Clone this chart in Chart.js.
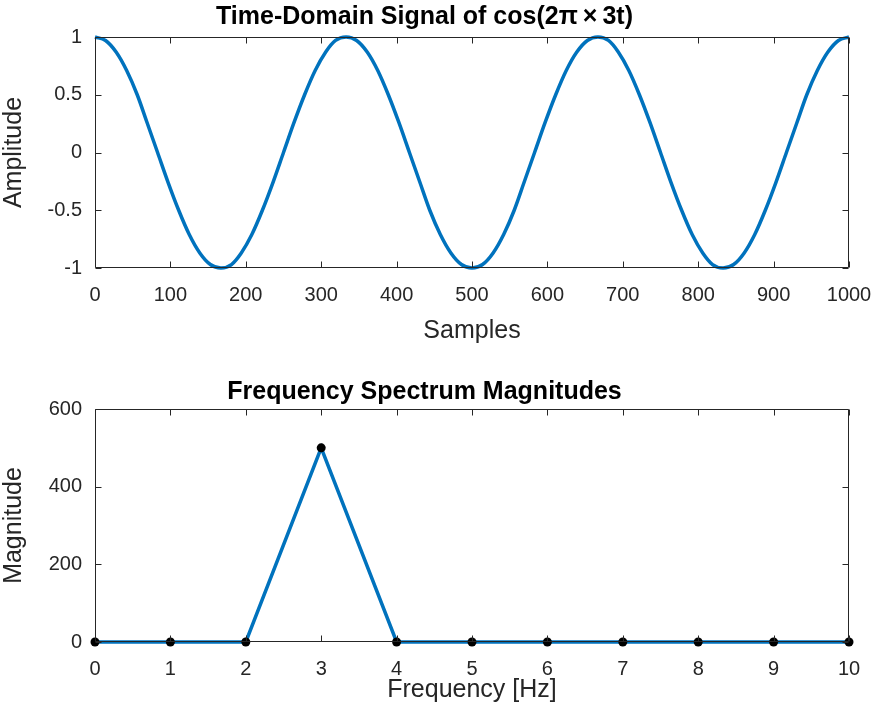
<!DOCTYPE html>
<html>
<head>
<meta charset="utf-8">
<script src="https://cdn.jsdelivr.net/npm/chart.js@4.4.0/dist/chart.umd.min.js"></script>
<style>
  body { margin: 0; background: #fff; }
  #wrap { position: relative; width: 876px; height: 717px; }
  canvas { position: absolute; left: 0; }
</style>
</head>
<body>
<div id="wrap">
  <canvas id="timeChart" width="876" height="358" style="top:0"></canvas>
  <canvas id="freqChart" width="876" height="359" style="top:358px"></canvas>
</div>
<script>
// Top plot: samples and amplitude
const sampleIdx = [
  0, 14, 28, 42, 56, 69, 83, 97, 111, 125, 139, 153,
  167, 181, 194, 208, 222, 236, 250, 264, 278, 292, 306, 319,
  333, 347, 361, 375, 389, 403, 417, 431, 444, 458, 472, 486,
  500, 514, 528, 542, 556, 569, 583, 597, 611, 625, 639, 653,
  667, 681, 694, 708, 722, 736, 750, 764, 778, 792, 806, 819,
  833, 847, 861, 875, 889, 903, 917, 931, 944, 958, 972, 986,
  1000
];
const amplitude = [
  1, 0.97, 0.87, 0.71, 0.5, 0.26, 0, -0.26, -0.5, -0.71, -0.87, -0.97,
  -1, -0.97, -0.87, -0.71, -0.5, -0.26, 0, 0.26, 0.5, 0.71, 0.87, 0.97,
  1, 0.97, 0.87, 0.71, 0.5, 0.26, 0, -0.26, -0.5, -0.71, -0.87, -0.97,
  -1, -0.97, -0.87, -0.71, -0.5, -0.26, 0, 0.26, 0.5, 0.71, 0.87, 0.97,
  1, 0.97, 0.87, 0.71, 0.5, 0.26, 0, -0.26, -0.5, -0.71, -0.87, -0.97,
  -1, -0.97, -0.87, -0.71, -0.5, -0.26, 0, 0.26, 0.5, 0.71, 0.87, 0.97,
  1
];
const sampleTicks = [0, 100, 200, 300, 400, 500, 600, 700, 800, 900, 1000];
const ampTicks = [-1, -0.5, 0, 0.5, 1];
const ampLabels = ['-1', '-0.5', '0', '0.5', '1'];

// Bottom plot: spectrum
const freqHz = [0, 1, 2, 3, 4, 5, 6, 7, 8, 9, 10];
const magnitude = [0, 0, 0, 500, 0, 0, 0, 0, 0, 0, 0];
const freqTicks = [0, 1, 2, 3, 4, 5, 6, 7, 8, 9, 10];
const magTicks = [0, 200, 400, 600];

const AXIS = '#262626';
const BLUE = '#0072BD';
Chart.defaults.font.family = "'Liberation Sans', Arial, Helvetica, sans-serif";
Chart.defaults.color = AXIS;

// matlab-ish box with inward ticks, drawn over the data
const boxPlugin = {
  id: 'box',
  afterDatasetsDraw(chart) {
    const { ctx, chartArea: a, scales } = chart;
    const L = a.left + 0.5, R = Math.round(a.right) - 0.5;
    const T = a.top + 0.5, B = Math.round(a.bottom) - 0.5;
    ctx.save();
    ctx.strokeStyle = AXIS;
    ctx.lineWidth = 1;
    ctx.beginPath();
    ctx.rect(L, T, R - L, B - T);
    scales.x.ticks.forEach(t => {
      const px = Math.round(scales.x.getPixelForValue(t.value)) + 0.5;
      ctx.moveTo(px, B); ctx.lineTo(px, B - 6);
      ctx.moveTo(px, T); ctx.lineTo(px, T + 6);
    });
    scales.y.ticks.forEach(t => {
      const py = Math.round(scales.y.getPixelForValue(t.value)) + 0.5;
      ctx.moveTo(L, py); ctx.lineTo(L + 6, py);
      ctx.moveTo(R, py); ctx.lineTo(R - 6, py);
    });
    ctx.stroke();
    ctx.restore();
  }
};

function axes(opts) {
  return {
    x: {
      type: 'linear', min: opts.xTicks[0], max: opts.xTicks[opts.xTicks.length - 1],
      afterBuildTicks: s => { s.ticks = opts.xTicks.map(v => ({ value: v })); },
      afterFit: s => { s.height = opts.xHeight; s.paddingLeft = 0; s.paddingRight = 0; },
      grid: { display: false, drawTicks: false }, border: { display: false },
      ticks: { font: { size: 20 }, color: AXIS, padding: 15, autoSkip: false, maxRotation: 0,
               callback: opts.xLabel },
      title: { display: true, text: opts.xTitle, color: AXIS, font: { size: 25 },
               padding: { top: 0, bottom: 12 } }
    },
    y: {
      type: 'linear', min: opts.yTicks[0], max: opts.yTicks[opts.yTicks.length - 1],
      afterBuildTicks: s => { s.ticks = opts.yTicks.map(v => ({ value: v })); },
      afterFit: s => { s.width = 95; },
      grid: { display: false, drawTicks: false }, border: { display: false },
      ticks: { font: { size: 20 }, color: AXIS, padding: 13, autoSkip: false,
               callback: opts.yLabel },
      title: { display: true, text: opts.yTitle, color: AXIS, font: { size: 25 },
               padding: { top: -1, bottom: 0 } }
    }
  };
}

new Chart(document.getElementById('timeChart'), {
  type: 'line',
  data: {
    datasets: [{
      data: sampleIdx.map((s, i) => ({ x: s, y: amplitude[i] })),
      borderColor: BLUE, borderWidth: 3.5, pointRadius: 0,
      cubicInterpolationMode: 'monotone', clip: false
    }]
  },
  options: {
    responsive: false, animation: false,
    layout: { padding: { left: 0, right: 27, top: 0, bottom: 0 } },
    plugins: {
      legend: { display: false }, tooltip: { enabled: false },
      title: { display: true, text: 'Time-Domain Signal of cos(2\u03c0\u2009\u00d7\u20093t)',
               color: '#000', font: { size: 25, weight: 'bold' },
               padding: { top: 2, bottom: 5 } }
    },
    scales: axes({
      xTicks: sampleTicks, yTicks: ampTicks, xHeight: 90,
      xLabel: v => String(v), yLabel: (v, i) => ampLabels[i],
      xTitle: 'Samples', yTitle: 'Amplitude'
    })
  },
  plugins: [boxPlugin]
});

new Chart(document.getElementById('freqChart'), {
  type: 'line',
  data: {
    datasets: [{
      data: freqHz.map((f, i) => ({ x: f, y: magnitude[i] })),
      borderColor: BLUE, borderWidth: 3.5, tension: 0,
      pointRadius: 4.5, pointBackgroundColor: '#000', pointBorderWidth: 0,
      clip: false
    }]
  },
  options: {
    responsive: false, animation: false,
    layout: { padding: { left: 0, right: 27, top: 0, bottom: 0 } },
    plugins: {
      legend: { display: false }, tooltip: { enabled: false },
      title: { display: true, text: 'Frequency Spectrum Magnitudes',
               color: '#000', font: { size: 25, weight: 'bold' },
               padding: { top: 19, bottom: 2 } }
    },
    scales: axes({
      xTicks: freqTicks, yTicks: magTicks, xHeight: 75,
      xLabel: v => String(v), yLabel: v => String(v),
      xTitle: 'Frequency [Hz]', yTitle: 'Magnitude'
    })
  },
  plugins: [boxPlugin]
});
</script>
</body>
</html>
